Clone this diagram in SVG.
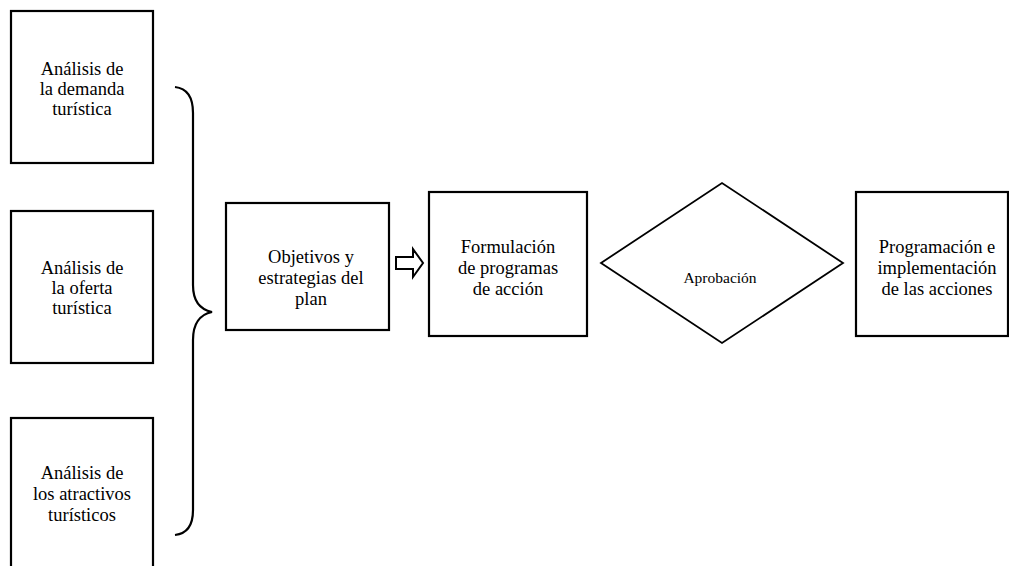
<svg xmlns="http://www.w3.org/2000/svg" width="1009" height="566" viewBox="0 0 1009 566">
<style>
.box{fill:#fff;stroke:#000;stroke-width:2.2}
.dia{fill:#fff;stroke:#000;stroke-width:1.8}
.t{font-family:"Liberation Serif","Times New Roman",serif;font-size:18.5px;fill:#000;text-anchor:middle}
.ts{font-family:"Liberation Serif","Times New Roman",serif;font-size:15.5px;fill:#000;text-anchor:middle}
.br{fill:none;stroke:#000;stroke-width:2.2}
</style>
<rect width="1009" height="566" fill="#fff"/>
<g id="n1"><rect class="box" x="11" y="11" width="142" height="152"/>
<text class="t" x="82" y="75">Análisis de</text><text class="t" x="82" y="95">la demanda</text><text class="t" x="82" y="115">turística</text></g>
<g id="n2"><rect class="box" x="11" y="211" width="142" height="152"/>
<text class="t" x="82" y="274">Análisis de</text><text class="t" x="82" y="294">la oferta</text><text class="t" x="82" y="314">turística</text></g>
<g id="n3"><rect class="box" x="11" y="418" width="142" height="170"/>
<text class="t" x="82" y="479">Análisis de</text><text class="t" x="82" y="500">los atractivos</text><text class="t" x="82" y="521">turísticos</text></g>
<g id="n4"><rect class="box" x="226" y="203" width="163" height="127"/>
<text class="t" x="311" y="263">Objetivos y</text><text class="t" x="311" y="284">estrategias del</text><text class="t" x="311" y="305">plan</text></g>
<g id="n5"><rect class="box" x="429" y="192" width="158" height="144"/>
<text class="t" x="508" y="253">Formulación</text><text class="t" x="508" y="274">de programas</text><text class="t" x="508" y="295">de acción</text></g>
<g id="n6"><polygon class="dia" points="601,263 722,183 843,263 722,343"/>
<text class="ts" x="720" y="283">Aprobación</text></g>
<g id="n7"><rect class="box" x="856" y="192" width="152" height="144"/>
<text class="t" x="937" y="253">Programación e</text><text class="t" x="937" y="274">implementación</text><text class="t" x="937" y="295">de las acciones</text></g>
<g id="connectors">
<path class="br" d="M175,87 Q193,89 193,113 L193,285 Q193,308 212,312 Q193,316 193,340 L193,510 Q193,533 175,535"/>
<polygon fill="#fff" stroke="#000" stroke-width="2" points="396,257 413,257 413,249 423,263 413,277 413,269 396,269"/>
</g>
</svg>
